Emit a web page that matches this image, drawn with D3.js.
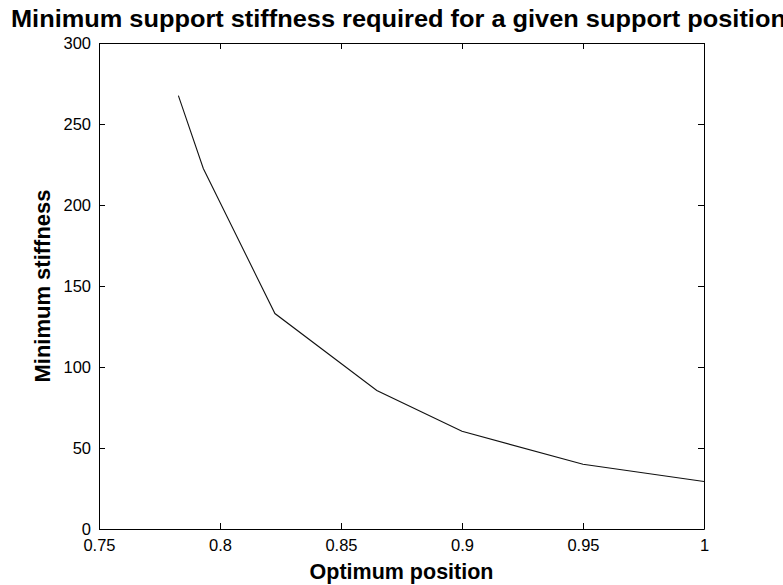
<!DOCTYPE html>
<html>
<head>
<meta charset="utf-8">
<script src="https://cdn.jsdelivr.net/npm/d3@7"></script>
<style>
  body { margin: 0; background: #fff; overflow: hidden; }
  svg { display: block; }
  .tick text { font-family: "Liberation Sans", Arial, sans-serif; font-size: 16.5px; fill: #000; }
</style>
</head>
<body>
<div class="chart"></div>
<script>
// data
const positions = [0.7828, 0.7931, 0.8227, 0.8648, 0.9, 0.95, 1.0];
const stiffness = [267.5, 222.5, 133, 85.5, 60.3, 40, 29.3];
const xTicks = [0.75, 0.8, 0.85, 0.9, 0.95, 1];
const yTicks = [0, 50, 100, 150, 200, 250, 300];

const W = 783, H = 585;
const margin = {top: 43, right: 79, bottom: 56, left: 99},
    width = W - margin.left - margin.right,
    height = H - margin.top - margin.bottom;

const svg = d3.select('.chart').append('svg')
  .attr('width', W)
  .attr('height', H);

const g = svg.append('g')
  .attr('transform', `translate(${margin.left},${margin.top})`);

const xScale = d3.scaleLinear().domain([0.75, 1]).range([0, width]);
const yScale = d3.scaleLinear().domain([0, 300]).range([height, 0]);

const fmt = d => String(+d.toFixed(2));

//AXES (matlab style box, ticks pointing inward on all 4 sides)
const tk = 6;
const styleAxis = sel => {
  sel.select('.domain').attr('stroke', '#000').attr('stroke-width', 1);
  sel.selectAll('.tick line').attr('stroke', '#000');
};

g.append('g')
  .attr('transform', `translate(0,${height})`)
  .call(d3.axisBottom(xScale).tickValues(xTicks).tickFormat(fmt).tickSizeInner(-tk).tickSizeOuter(0).tickPadding(10))
  .call(styleAxis);

g.append('g')
  .call(d3.axisTop(xScale).tickValues(xTicks).tickFormat('').tickSizeInner(-tk).tickSizeOuter(0))
  .call(styleAxis);

g.append('g')
  .call(d3.axisLeft(yScale).tickValues(yTicks).tickFormat(d3.format('d')).tickSizeInner(-tk).tickSizeOuter(0).tickPadding(8))
  .call(styleAxis);

g.append('g')
  .attr('transform', `translate(${width},0)`)
  .call(d3.axisRight(yScale).tickValues(yTicks).tickFormat('').tickSizeInner(-tk).tickSizeOuter(0))
  .call(styleAxis);

g.selectAll('.tick text').attr('font-family', null).attr('font-size', null);

//LINE
const data = positions.map((p, i) => ({x: p, y: stiffness[i]}));

g.append('path')
  .datum(data)
  .attr('fill', 'none')
  .attr('stroke', '#111')
  .attr('stroke-width', 1.1)
  .attr('d', d3.line().x(d => xScale(d.x)).y(d => yScale(d.y)));

//LABELS
// title is wider than the figure in the original, so it runs off the right edge
svg.append('text')
  .attr('transform', 'translate(11,26.5) scale(1.08,1)')
  .style('font-family', '"Liberation Sans", Arial, sans-serif')
  .style('font-weight', 'bold')
  .style('font-size', '23.5px')
  .text('Minimum support stiffness required for a given support position');

svg.append('text')
  .attr('x', margin.left + width / 2)
  .attr('y', 579)
  .attr('text-anchor', 'middle')
  .style('font-family', '"Liberation Sans", Arial, sans-serif')
  .style('font-weight', 'bold')
  .style('font-size', '21.5px')
  .text('Optimum position');

svg.append('text')
  .attr('transform', `translate(50,${margin.top + height / 2}) rotate(-90)`)
  .attr('text-anchor', 'middle')
  .style('font-family', '"Liberation Sans", Arial, sans-serif')
  .style('font-weight', 'bold')
  .style('font-size', '22px')
  .text('Minimum stiffness');
</script>
</body>
</html>
